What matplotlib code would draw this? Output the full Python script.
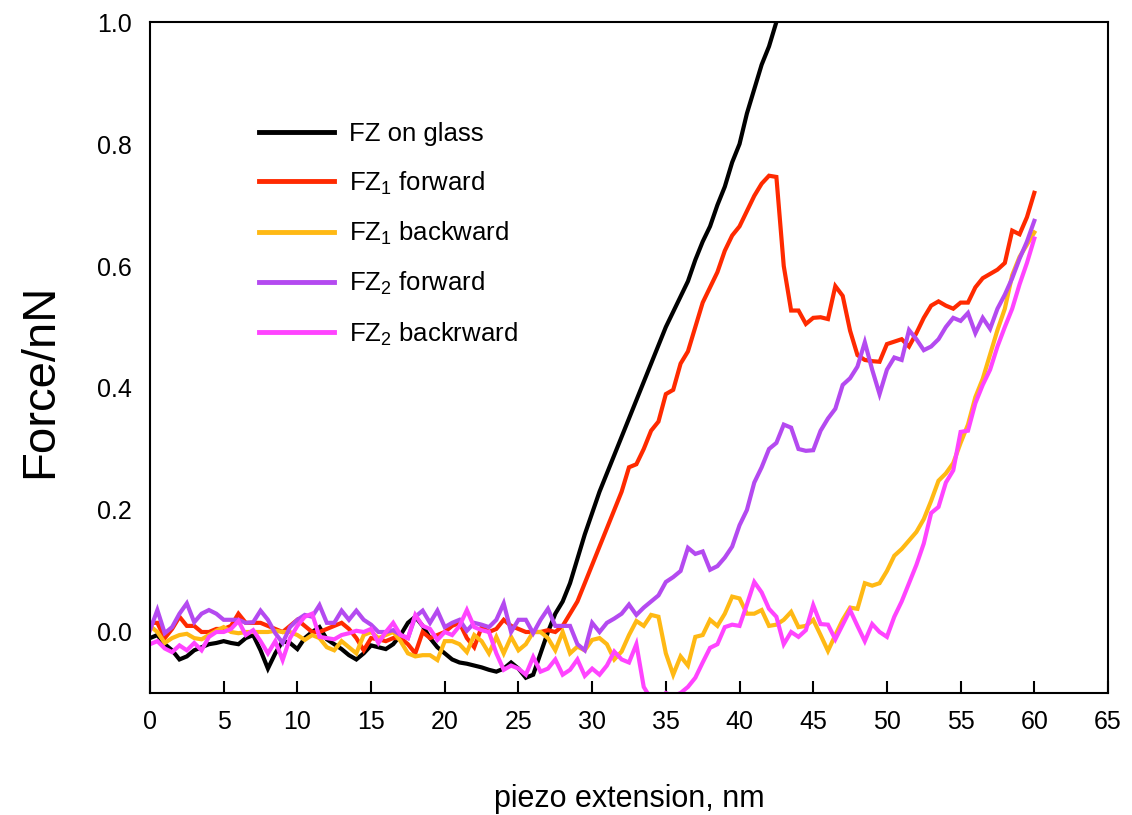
import matplotlib
matplotlib.use("Agg")
import matplotlib.pyplot as plt
import numpy as np
from matplotlib import font_manager

# piezo extension grid (nm)
ext = np.arange(0, 60.01, 0.5)
ext_glass = np.arange(0, 42.51, 0.5)

fz_glass = [
    -0.01, -0.005, -0.02, -0.03, -0.045, -0.04, -0.03, -0.025, -0.02, -0.018,
    -0.015, -0.018, -0.02, -0.01, -0.005, -0.03, -0.06, -0.035, -0.015, -0.018,
    -0.028, -0.01, 0.0, 0.008, -0.012, -0.02, -0.028, -0.038, -0.045, -0.035,
    -0.022, -0.025, -0.028, -0.02, -0.005, 0.015, 0.025, 0.01, -0.01, -0.025,
    -0.035, -0.045, -0.05, -0.052, -0.055, -0.058, -0.062, -0.065, -0.06, -0.05,
    -0.06, -0.075, -0.07, -0.035, 0.0, 0.03, 0.05, 0.08, 0.12, 0.16,
    0.195, 0.23, 0.26, 0.29, 0.32, 0.35, 0.38, 0.41, 0.44, 0.47,
    0.5, 0.525, 0.55, 0.575, 0.61, 0.64, 0.665, 0.70, 0.73, 0.77,
    0.80, 0.85, 0.89, 0.93, 0.96, 1.0,
]

fz1_forward = [
    0.015, 0.015, -0.01, 0.005, 0.025, 0.01, 0.01, 0.0, 0.0, 0.005,
    0.005, 0.01, 0.03, 0.015, 0.015, 0.015, 0.01, 0.005, 0.0, 0.01,
    0.02, 0.01, 0.0, 0.0, 0.005, 0.01, 0.015, 0.005, -0.01, -0.03,
    -0.01, -0.012, -0.015, -0.01, -0.01, -0.02, -0.035, 0.0, -0.01, -0.005,
    0.0, 0.01, 0.015, -0.01, -0.025, 0.008, 0.0, 0.005, 0.02, 0.01,
    0.005, 0.0, 0.0, 0.0, 0.003, 0.0, 0.01, 0.03, 0.05, 0.08,
    0.11, 0.14, 0.17, 0.2, 0.23, 0.27, 0.275, 0.3, 0.33, 0.345,
    0.39, 0.397, 0.44, 0.46, 0.5, 0.54, 0.565, 0.59, 0.625, 0.65,
    0.665, 0.69, 0.715, 0.735, 0.748, 0.746, 0.6, 0.527, 0.527, 0.505,
    0.515, 0.516, 0.513, 0.567, 0.551, 0.494, 0.454, 0.446, 0.444, 0.443,
    0.472, 0.476, 0.48, 0.468, 0.49, 0.515, 0.535, 0.542, 0.535, 0.53,
    0.54, 0.54, 0.565, 0.58, 0.587, 0.594, 0.605, 0.658, 0.652, 0.68,
    0.72,
]

fz1_backward = [
    0.01, 0.0, -0.018, -0.01, -0.005, -0.003, -0.01, -0.012, -0.005, 0.002,
    0.008, 0.0, -0.002, 0.0, 0.0, 0.0, 0.0, 0.002, 0.0, 0.0,
    -0.005, -0.013, -0.005, -0.01, -0.025, -0.03, -0.015, -0.025, -0.035, -0.005,
    0.0, -0.01, -0.005, 0.0, -0.015, -0.035, -0.04, -0.038, -0.038, -0.046,
    -0.015, -0.015, -0.02, -0.033, -0.005, -0.015, -0.035, -0.008, -0.035, -0.008,
    -0.03, -0.02, 0.0, 0.0, -0.01, -0.03, 0.0, -0.035, -0.024, -0.03,
    -0.013, -0.01, -0.02, -0.045, -0.032, -0.005, 0.018, 0.01, 0.028, 0.025,
    -0.035, -0.07, -0.04, -0.055, -0.008, -0.005, 0.02, 0.01, 0.03, 0.058,
    0.055, 0.03, 0.03, 0.036, 0.01, 0.012, 0.02, 0.033, 0.008, 0.01,
    0.02, -0.005, -0.031, -0.005, 0.02, 0.04, 0.038, 0.08, 0.076, 0.08,
    0.1, 0.125, 0.136, 0.15, 0.164, 0.185, 0.215, 0.248, 0.26, 0.277,
    0.31, 0.34, 0.385, 0.415, 0.455, 0.495, 0.53, 0.585, 0.615, 0.635,
    0.655,
]

fz2_forward = [
    0.003, 0.036, -0.002, 0.008, 0.03, 0.047, 0.016, 0.03, 0.036, 0.03,
    0.02, 0.02, 0.02, 0.015, 0.016, 0.035, 0.02, -0.002, -0.018, 0.008,
    0.02, 0.028, 0.025, 0.044, 0.015, 0.015, 0.035, 0.02, 0.035, 0.02,
    0.012, 0.0, 0.0, 0.003, -0.005, -0.01, 0.025, 0.035, 0.015, 0.035,
    0.008, 0.015, 0.02, 0.002, 0.015, 0.012, 0.008, 0.02, 0.047, 0.0,
    0.02, 0.02, -0.002, 0.02, 0.038, 0.01, 0.01, 0.01, -0.02, -0.03,
    0.015, 0.0, 0.015, 0.022, 0.03, 0.045, 0.028, 0.04, 0.05, 0.06,
    0.082, 0.09, 0.1, 0.138, 0.128, 0.132, 0.102, 0.108, 0.122, 0.14,
    0.175, 0.2, 0.245, 0.27, 0.3, 0.31, 0.34, 0.335, 0.3, 0.297,
    0.298, 0.33, 0.35, 0.366, 0.405, 0.416, 0.435, 0.475, 0.43, 0.39,
    0.43, 0.45, 0.446, 0.495, 0.48, 0.462, 0.468, 0.48, 0.5, 0.515,
    0.51, 0.523, 0.49, 0.515, 0.497, 0.53, 0.553, 0.58, 0.612, 0.64,
    0.674,
]

fz2_backward = [
    -0.02, -0.015, -0.027, -0.033, -0.022, -0.03, -0.018, -0.03, -0.008, 0.0,
    0.0, 0.005, 0.018, -0.005, 0.003, -0.015, -0.035, -0.015, -0.046, -0.01,
    0.01, 0.025, 0.03, -0.008, -0.01, -0.012, -0.005, -0.002, 0.002, 0.0,
    0.005, -0.018, 0.0, 0.015, -0.005, -0.01, 0.028, 0.01, 0.005, -0.013,
    0.0, -0.005, 0.01, 0.036, 0.008, 0.003, 0.0, -0.035, -0.062, -0.055,
    -0.06, -0.07, -0.041, -0.065, -0.06, -0.045, -0.07, -0.062, -0.045, -0.072,
    -0.06, -0.07, -0.055, -0.032, -0.045, -0.05, -0.02, -0.09, -0.11, -0.115,
    -0.1, -0.105, -0.1, -0.09, -0.075, -0.05, -0.026, -0.02, 0.008, 0.012,
    0.01, 0.045, 0.082, 0.065, 0.038, 0.025, -0.02, 0.0, -0.008, 0.003,
    0.044, 0.013, 0.012, -0.012, 0.012, 0.036, 0.01, -0.015, 0.013, 0.0,
    -0.008, 0.025, 0.05, 0.08, 0.11, 0.145, 0.195, 0.205, 0.245, 0.265,
    0.328, 0.33, 0.375, 0.405, 0.43, 0.468, 0.5, 0.53, 0.57, 0.605,
    0.645,
]

labels = [
    "FZ on glass",
    r"FZ$_1$ forward",
    r"FZ$_1$ backward",
    r"FZ$_2$ forward",
    r"FZ$_2$ backrward",
]
colors = ["#000000", "#ff2a00", "#ffb914", "#b44af0", "#ff44ff"]

xticks = np.arange(0, 66, 5)
yticks = [0.0, 0.2, 0.4, 0.6, 0.8, 1.0]

installed = {f.name for f in font_manager.fontManager.ttflist}
family = "Liberation Sans Narrow" if "Liberation Sans Narrow" in installed else "Liberation Sans"
plt.rcParams["font.family"] = [family, "DejaVu Sans"]
plt.rcParams["mathtext.fontset"] = "custom"
plt.rcParams["mathtext.rm"] = family
plt.rcParams["mathtext.it"] = family
plt.rcParams["mathtext.default"] = "regular"

fig = plt.figure(figsize=(11.32, 8.15), dpi=100)
ax = fig.add_axes([0.1325, 0.1497, 0.8463, 0.8233])

series = [fz_glass, fz1_forward, fz1_backward, fz2_forward, fz2_backward]
xs = [ext_glass, ext, ext, ext, ext]
for x, y, c, lab in zip(xs, series, colors, labels):
    ax.plot(x, y, color=c, lw=3.0, label=lab, solid_joinstyle="miter")

ax.set_xlim(0, 65)
ax.set_ylim(-0.1, 1.0)
ax.set_xticks(xticks)
ax.set_xticklabels([str(v) for v in xticks])
ax.set_yticks(yticks)
ax.set_yticklabels([f"{v:.1f}" for v in yticks])
ax.tick_params(axis="x", direction="in", length=9, width=1.5, pad=12, labelsize=18)
ax.tick_params(axis="y", direction="in", length=0, width=1.5, pad=13, labelsize=18)
for s in ax.spines.values():
    s.set_linewidth(1.5)

ax.set_xlabel("piezo extension, nm", fontsize=22, labelpad=36)
ax.set_ylabel("Force/nN", fontsize=34, ha="center", va="center")
ax.yaxis.set_label_coords(-110 / 958, (693 - 381) / 671)

leg = ax.legend(loc="upper left", bbox_to_anchor=(0.09, 0.885), frameon=False,
                fontsize=18.5, handlelength=2.9, handletextpad=0.6,
                labelspacing=0.9)
for h in leg.get_lines():
    h.set_linewidth(3.5)

fig.savefig("out.png", dpi=100)
